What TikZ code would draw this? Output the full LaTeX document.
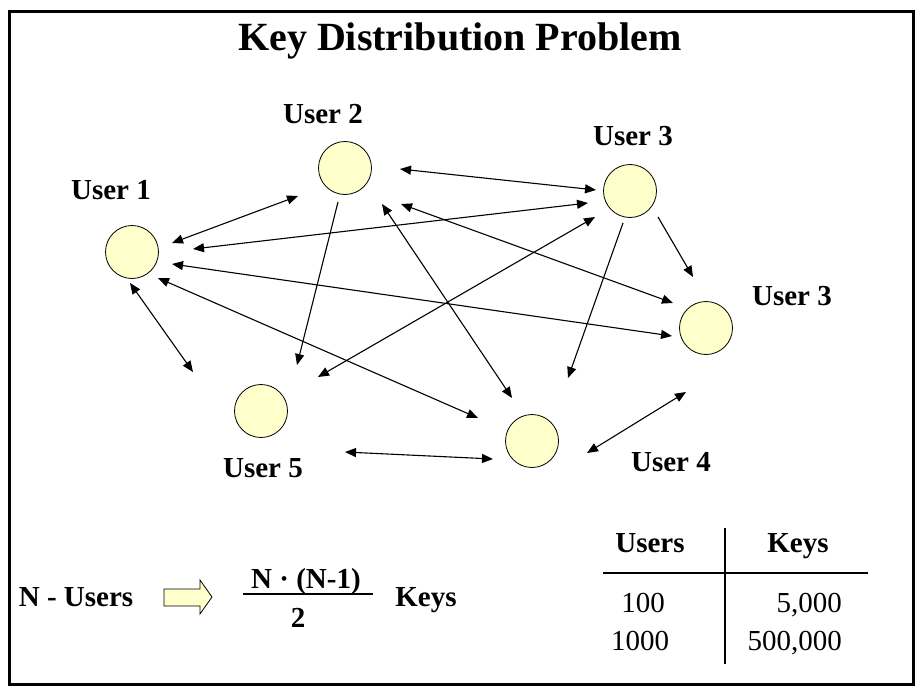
\documentclass[tikz,border=0pt]{standalone}
\usepackage{fontspec}
\setmainfont{Liberation Serif}
\usepackage{xcolor}
\usepackage{tikz}
\usetikzlibrary{arrows.meta,positioning,calc}

\definecolor{userfill}{HTML}{FFFFCC}

\begin{document}
\begin{tikzpicture}[x=1pt,y=-1pt,
    user/.style={circle,draw,fill=userfill,line width=0.8pt,minimum size=53pt,inner sep=0pt},
    lbl/.style={anchor=base,font=\fontsize{29}{34}\selectfont\bfseries,inner sep=0pt},
    num/.style={anchor=base,font=\fontsize{29}{34}\selectfont,inner sep=0pt},
    keyline/.style={line width=1.1pt,{Triangle[length=11pt,width=9pt]}-{Triangle[length=11pt,width=9pt]}},
    oneway/.style={line width=1.1pt,-{Triangle[length=11pt,width=9pt]}}]
\useasboundingbox (0,0) rectangle (920,693);
\draw[line width=3pt] (9,12) rectangle (913,684);

% title
\node[anchor=base,font=\fontsize{40}{48}\selectfont\bfseries,inner sep=0pt] (title) at (460,51) {Key Distribution Problem};

% users
\node[user] (u1) at (132,252) {};
\node[user] (u2) at (345,168) {};
\node[user] (u3) at (630,191) {};
\node[user] (u3r) at (706,328) {};
\node[user] (u4) at (532,441) {};
\node[user] (u5) at (261,411) {};
\node[lbl] (l1) at (111,199) {User 1};
\node[lbl] (l2) at (323,123) {User 2};
\node[lbl] (l3) at (633,145) {User 3};
\node[lbl] (l3r) at (792,305) {User 3};
\node[lbl] (l4) at (671,471) {User 4};
\node[lbl] (l5) at (263,477) {User 5};

% arrow ends
\coordinate (e1a) at (172,243); \coordinate (e1b) at (298,196);
\coordinate (e2a) at (193,249); \coordinate (e2b) at (588,203);
\coordinate (e3a) at (172,264); \coordinate (e3b) at (672,336);
\coordinate (e4a) at (158,278); \coordinate (e4b) at (478,418);
\coordinate (e5a) at (130,283); \coordinate (e5b) at (193,372);
\coordinate (e6a) at (338,202); \coordinate (e6b) at (297,365);
\coordinate (e7a) at (400,169); \coordinate (e7b) at (596,190);
\coordinate (e8a) at (401,204); \coordinate (e8b) at (673,303);
\coordinate (e9a) at (382,204); \coordinate (e9b) at (512,398);
\coordinate (e10a) at (318,377); \coordinate (e10b) at (595,217);
\coordinate (e11a) at (623,223); \coordinate (e11b) at (568,378);
\coordinate (e12a) at (658,217); \coordinate (e12b) at (693,277);
\coordinate (e13a) at (345,452); \coordinate (e13b) at (493,459);
\coordinate (e14a) at (587,453); \coordinate (e14b) at (686,392);

\foreach \i in {1,2,3,4,5,7,8,9,10,13,14}
    \draw[keyline] (e\i a) -- (e\i b);
\foreach \i in {6,11,12}
    \draw[oneway] (e\i a) -- (e\i b);

% formula
\node[lbl] (nusers) at (76,606) {N - Users};
\draw[fill=userfill,line width=0.8pt] (164,589) -- (200,589) -- (200,580) -- (212,597) -- (200,614) -- (200,606) -- (164,606) -- cycle;
\node[lbl] (numer) at (306,588) {N · (N-1)};
\coordinate (fl) at (243,594); \coordinate (fr) at (373,594);
\draw[line width=1.3pt] (fl) -- (fr);
\node[lbl] (denom) at (298,627) {2};
\node[lbl] (keys) at (426,606) {Keys};

% table
\node[lbl] (thu) at (650,552) {Users};
\node[lbl] (thk) at (798,552) {Keys};
\coordinate (hl) at (603,573); \coordinate (hr) at (868,573);
\coordinate (vt) at (725,528); \coordinate (vb) at (725,664);
\draw[line width=1.2pt] (hl) -- (hr);
\draw[line width=1.2pt] (vt) -- (vb);
\node[num] (r1u) at (643,612) {100};
\node[num,anchor=base east] (r1k) at (842,612) {5,000};
\node[num] (r2u) at (640,650) {1000};
\node[num,anchor=base east] (r2k) at (842,650) {500,000};
\end{tikzpicture}
\end{document}
